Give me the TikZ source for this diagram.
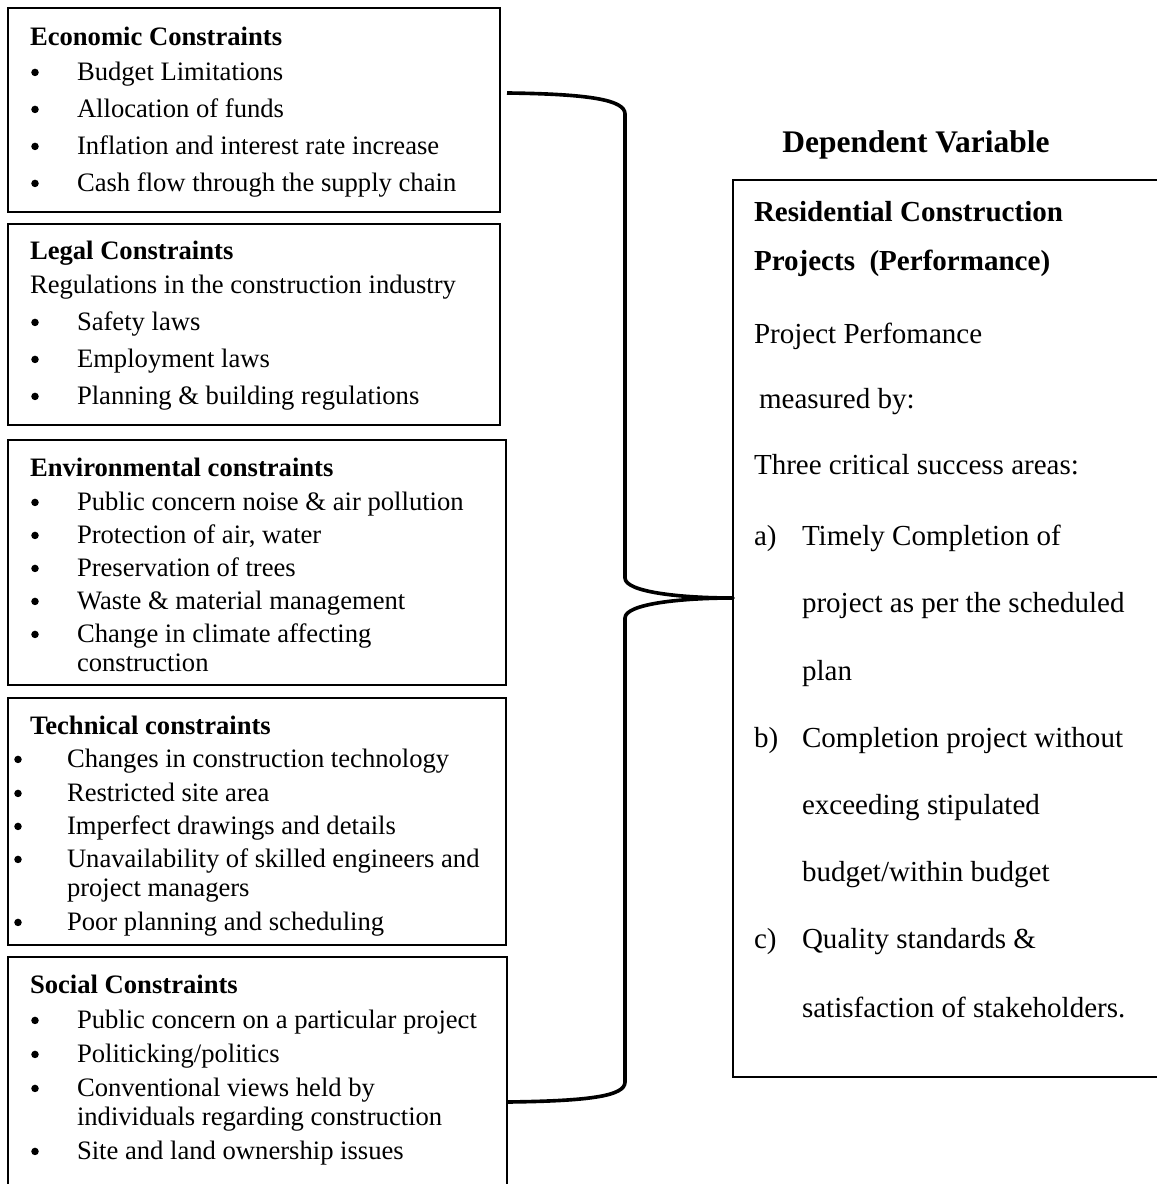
\documentclass[tikz,border=0pt]{standalone}
\usepackage{fontspec}
\setmainfont{Liberation Serif}
\usetikzlibrary{fit,positioning}

\begin{document}
\begin{tikzpicture}[x=0.4132pt,y=-0.4132pt,semithick]
        \tikzstyle{every node}=[inner sep=0pt,outer sep=0pt]
        \tikzstyle{box}=[draw=black,line width=0.8pt]
        \tikzstyle{txt}=[anchor=base west,yshift=-1pt,font=\fontsize{11}{13}\selectfont]
        \tikzstyle{head}=[anchor=base west,yshift=-1pt,font=\fontsize{11}{13}\selectfont\bfseries]
        \tikzstyle{rtxt}=[anchor=base west,yshift=-1pt,font=\fontsize{12}{14}\selectfont]
        \tikzstyle{rhead}=[anchor=base west,yshift=-1pt,font=\fontsize{12}{14}\selectfont\bfseries]
        \tikzstyle{bul}=[circle,fill=black,minimum size=3.1pt,yshift=-1pt]
    \useasboundingbox (0,0) rectangle (1156,1184);
        % independent variables
        \node[box,fit={(8,8) (500,212)}] (eco) {};
        \node[box,fit={(8,224) (500,425)}] (leg) {};
        \node[box,fit={(8,440) (506,685)}] (env) {};
        \node[box,fit={(8,698) (506,945)}] (tec) {};
        \node[box,fit={(8,957) (507,1192)}] (soc) {};
        % economic
        \node[head] (eco-h) at (30,43) {Economic Constraints};
        \foreach \y/\t [count=\i] in {78/Budget Limitations,115/Allocation of funds,
            152/Inflation and interest rate increase,189/Cash flow through the supply chain}
            {\node[bul] (eco-b\i) at (35,\y-8) {};
             \node[txt] (eco-\i) at (77,\y) {\t};}
        % legal
        \node[head] (leg-h) at (30,257) {Legal Constraints};
        \node[txt] (leg-r) at (30,291) {Regulations in the construction industry};
        \foreach \y/\t [count=\i] in {328/Safety laws,365/Employment laws,
            402/Planning \& building regulations}
            {\node[bul] (leg-b\i) at (35,\y-8) {};
             \node[txt] (leg-\i) at (77,\y) {\t};}
        % environmental
        \node[head] (env-h) at (30,474) {Environmental constraints};
        \foreach \y/\t [count=\i] in {508/Public concern noise \& air pollution,
            541/{Protection of air, water},574/Preservation of trees,
            607/Waste \& material management,640/Change in climate affecting}
            {\node[bul] (env-b\i) at (35,\y-8) {};
             \node[txt] (env-\i) at (77,\y) {\t};}
        \node[txt] (env-w) at (77,669) {construction};
        % technical
        \node[head] (tec-h) at (30,732) {Technical constraints};
        \foreach \y/\t [count=\i] in {765/Changes in construction technology,
            799/Restricted site area,832/Imperfect drawings and details,
            865/Unavailability of skilled engineers and,928/Poor planning and scheduling}
            {\node[bul] (tec-b\i) at (18,\y-8) {};
             \node[txt] (tec-\i) at (67,\y) {\t};}
        \node[txt] (tec-w) at (67,894) {project managers};
        % social
        \node[head] (soc-h) at (30,991) {Social Constraints};
        \foreach \y/\t [count=\i] in {1026/Public concern on a particular project,
            1060/{Politicking/politics},1094/Conventional views held by,
            1157/Site and land ownership issues}
            {\node[bul] (soc-b\i) at (35,\y-8) {};
             \node[txt] (soc-\i) at (77,\y) {\t};}
        \node[txt] (soc-w) at (77,1123) {individuals regarding construction};
        % dependent variable
        \node[anchor=base,yshift=-1pt,font=\fontsize{13}{15}\selectfont\bfseries] (dvar) at (916,150) {Dependent Variable};
        \node[box,fit={(733,180) (1166,1077)}] (dep) {};
        \node[rhead] (dep-1) at (754,219) {Residential Construction};
        \node[rhead] (dep-2) at (754,268) {Projects\ \ (Performance)};
        \node[rtxt] (dep-3) at (754,341) {Project Perfomance};
        \node[rtxt] (dep-4) at (759,406) {measured by:};
        \node[rtxt] (dep-5) at (754,472) {Three critical success areas:};
        \foreach \y/\l/\t in {543/a)/Timely Completion of,745/b)/Completion project without,
            946/c)/Quality standards \&}
            {\node[rtxt] (lab-\l) at (754,\y) {\l};
             \node[rtxt] (itm-\l) at (802,\y) {\t};}
        \foreach \y/\t [count=\i] in {610/project as per the scheduled,678/plan,
            812/exceeding stipulated,879/{budget/within budget},1015/satisfaction of stakeholders.}
            {\node[rtxt] (cnt-\i) at (802,\y) {\t};}
        % brace
        \coordinate (bt) at (507,93);
        \coordinate (bb) at (507,1102);
        \coordinate (tip) at (733,598);
        \draw[line width=1.5pt,line join=round]
            (bt) .. controls (590,94) and (625,100) .. (625,114) -- (625,578)
            .. controls (625,592) and (680,598) .. (tip)
            .. controls (680,598) and (625,604) .. (625,618) -- (625,1082)
            .. controls (625,1096) and (590,1101) .. (bb);
\end{tikzpicture}
\end{document}
